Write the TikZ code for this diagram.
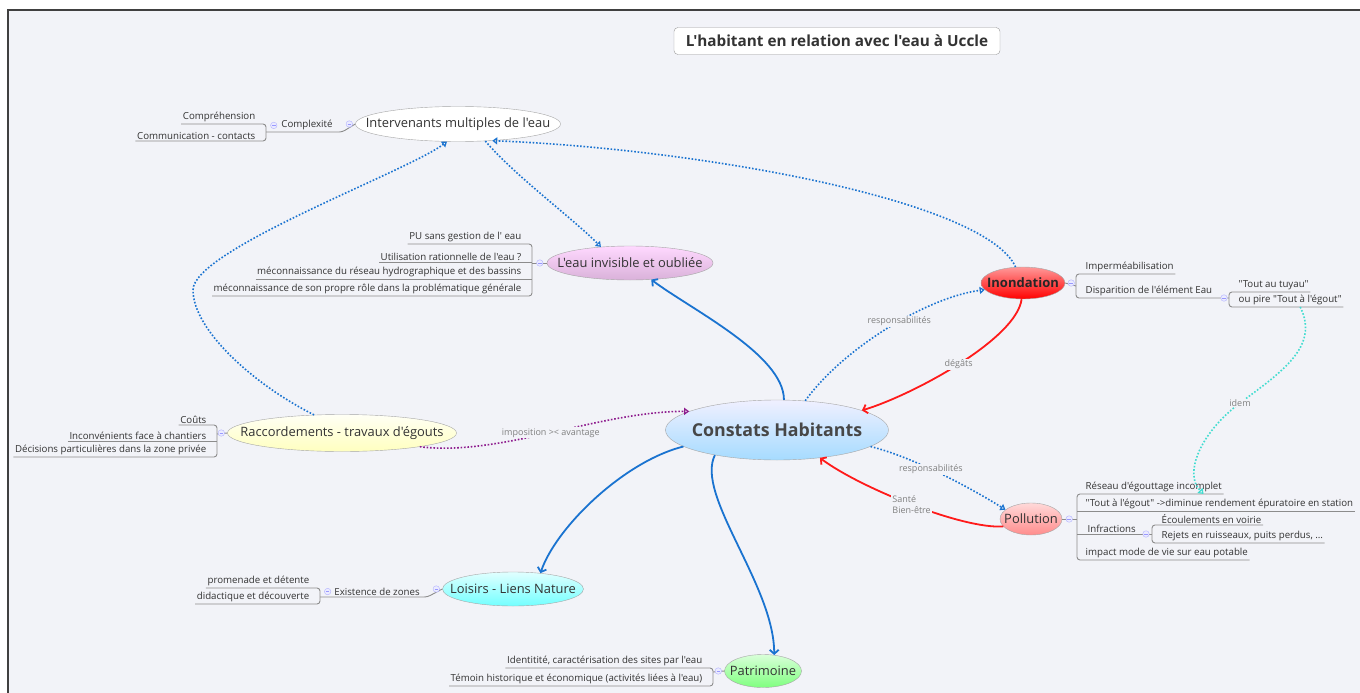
\documentclass[tikz,border=0pt]{standalone}
\usepackage{fontspec}
\setmainfont{Open Sans}[Ligatures=TeXOff]
\usetikzlibrary{shapes.geometric,arrows.meta,calc}

\definecolor{fond}{HTML}{F2F3F8}
\definecolor{lien}{HTML}{1A73D0}
\definecolor{rouge}{HTML}{FF1A1A}
\definecolor{violet}{HTML}{8E1C8E}
\definecolor{turquoise}{HTML}{40DCD0}
\definecolor{branche}{HTML}{8C8C8C}
\definecolor{texte}{HTML}{333333}

\begin{document}
\begin{tikzpicture}[x=1pt,y=-1pt,
  sujet/.style={ellipse,draw=gray!70,inner sep=0pt},
  titresujet/.style={font=\fontsize{12.9}{14}\selectfont,text=texte},
  feuille/.style={inner sep=1.5pt,text=texte,font=\fontsize{9.7}{11}\selectfont},
  branch/.style={draw=branche,line width=0.9pt,rounded corners=3pt},
  pli/.style={circle,draw=blue!30,fill=blue!8,minimum size=6.5pt,inner sep=0pt,
    path picture={\draw[blue!40,line width=0.6pt] ([xshift=-1.8pt]path picture bounding box.center) -- ([xshift=1.8pt]path picture bounding box.center);}},
  plein/.style={line width=1.8pt,-{Straight Barb[length=4pt,width=9pt]}},
  pointille/.style={line width=1.6pt,dash pattern=on 1.6pt off 1.8pt,-{Triangle[open,length=5pt,width=7pt,line width=1.2pt]}},
  etiq/.style={fill=fond,inner sep=1pt,text=gray,font=\fontsize{9}{10.5}\selectfont}
]
\useasboundingbox (0,0) rectangle (1360,693);
\fill[white] (0,0) rectangle (1360,693);
\fill[fond] (8,10) rectangle (1360,693);
\draw[black!75,line width=1.2pt] (8,693) -- (8,10) -- (1360,10);

% titre
\node[draw=gray!80,fill=white,rounded corners=4pt,minimum width=326,minimum height=27,
  font=\bfseries\fontsize{15.3}{17}\selectfont,text=texte] (titre) at (837,41) {L'habitant en relation avec l'eau à Uccle};

% sujets
\node[sujet,minimum width=223,minimum height=60,top color=blue!6!white,bottom color=blue!40!cyan!35!white,
  label={[font=\bfseries\fontsize{17.8}{19}\selectfont,text=black!72]center:Constats Habitants}] (centre) at (777,430) {};
\node[sujet,minimum width=205,minimum height=35,fill=white,
  label={[titresujet]center:Intervenants multiples de l'eau}] (ia) at (458,124) {};
\node[sujet,minimum width=166,minimum height=34,top color=magenta!15!white,bottom color=magenta!35!gray!45!white,
  label={[titresujet]center:L'eau invisible et oubliée}] (inv) at (630,263) {};
\node[sujet,minimum width=84,minimum height=32,top color=red!40!white,bottom color=red,
  label={[font=\bfseries\fontsize{13}{14}\selectfont,text=black!85]center:Inondation}] (inon) at (1023,283) {};
\node[sujet,minimum width=62,minimum height=32,top color=red!15!white,bottom color=red!45!white,
  label={[titresujet]center:Pollution}] (poll) at (1031,519) {};
\node[sujet,minimum width=229,minimum height=37,top color=yellow!4!white,bottom color=yellow!25!white,
  label={[titresujet]center:Raccordements - travaux d'égouts}] (racc) at (342,433) {};
\node[sujet,minimum width=141,minimum height=34,top color=cyan!12!white,bottom color=cyan!55!white,
  label={[titresujet]center:Loisirs - Liens Nature}] (lois) at (513,589) {};
\node[sujet,minimum width=77,minimum height=33,top color=green!15!white,bottom color=green!50!white,
  label={[titresujet]center:Patrimoine}] (pat) at (763,671) {};

% intervenants
\coordinate (brA) at (266,132);
\node[feuille,anchor=south east] (comp) at (257,124) {Compréhension};
\node[feuille,anchor=south east] (comm) at (257,141) {Communication - contacts};
\node[feuille,anchor=south] (cplx) at (307,132) {Complexité};
\draw[branch] (comp.south west) -- (comp.south west -| brA) -- (comm.south west -| brA) -- (comm.south west);
\draw[branch] (brA) -- ([xshift=8pt]cplx.south east) -- (ia.west);

% eau invisible
\coordinate (brB) at (532,263);
\node[feuille,anchor=south east] (pu) at (523,244) {PU sans gestion de l' eau};
\node[feuille,anchor=south east] (util) at (523,262) {Utilisation rationnelle de l'eau ?};
\node[feuille,anchor=south east] (mec1) at (523,279) {méconnaissance du réseau hydrographique et des bassins};
\node[feuille,anchor=south east] (mec2) at (523,296) {méconnaissance de son propre rôle dans la problématique générale};
\draw[branch] (pu.south west) -- (pu.south west -| brB) -- (mec2.south west -| brB) -- (mec2.south west);
\draw[branch] (util.south west) -- (util.south west -| brB);
\draw[branch] (mec1.south west) -- (mec1.south west -| brB);
\draw[branch] (brB) -- (inv.west);

% inondation
\coordinate (brC) at (1076,286);
\coordinate (brC2) at (1229,298);
\node[feuille,anchor=south west] (imp) at (1084,274) {Imperméabilisation};
\node[feuille,anchor=south west] (disp) at (1084,298) {Disparition de l'élément Eau};
\node[feuille,anchor=south west] (tuyau) at (1237,292) {"Tout au tuyau"};
\node[feuille,anchor=south west] (oupire) at (1237,307) {ou pire "Tout à l'égout"};
\draw[branch] (inon.east) -- (brC);
\draw[branch] (imp.south east) -- (imp.south east -| brC) -- (disp.south east -| brC) -- (brC2);
\draw[branch] (tuyau.south east) -- (tuyau.south east -| brC2) -- (oupire.south east -| brC2) -- (oupire.south east);

% pollution
\coordinate (brD) at (1077,519);
\coordinate (brD2) at (1152,534);
\node[feuille,anchor=south west] (res) at (1084,494) {Réseau d'égouttage incomplet};
\node[feuille,anchor=south west] (tout) at (1084,511) {"Tout à l'égout" ->diminue rendement épuratoire en station};
\node[feuille,anchor=south west] (infr) at (1086,534) {Infractions};
\node[feuille,anchor=south west] (ecoul) at (1160,525) {Écoulements en voirie};
\node[feuille,anchor=south west] (rejet) at (1160,543) {Rejets en ruisseaux, puits perdus, …};
\node[feuille,anchor=south west] (impact) at (1084,560) {impact mode de vie sur eau potable};
\draw[branch] (poll.east) -- (brD);
\draw[branch] (res.south east) -- (res.south east -| brD) -- (impact.south east -| brD) -- (impact.south east);
\draw[branch] (tout.south east) -- (tout.south east -| brD);
\draw[branch] (infr.south west -| brD) -- (brD2);
\draw[branch] (ecoul.south east) -- (ecoul.south east -| brD2) -- (rejet.south east -| brD2) -- (rejet.south east);

% raccordements
\coordinate (brE) at (217,434);
\node[feuille,anchor=south east] (couts) at (208,425) {Coûts};
\node[feuille,anchor=south east] (inconv) at (208,441) {Inconvénients face à chantiers};
\node[feuille,anchor=south east] (decis) at (208,457) {Décisions particulières dans la zone privée};
\draw[branch] (couts.south west) -- (couts.south west -| brE) -- (decis.south west -| brE) -- (decis.south west);
\draw[branch] (inconv.south west) -- (inconv.south west -| brE);
\draw[branch] (brE) -- (racc.west);

% loisirs
\coordinate (brF) at (320,597);
\node[feuille,anchor=south east] (prom) at (311,588) {promenade et détente};
\node[feuille,anchor=south east] (didac) at (311,604) {didactique et découverte};
\node[feuille,anchor=south] (exist) at (377,597) {Existence de zones};
\draw[branch] (prom.south west) -- (prom.south west -| brF) -- (didac.south west -| brF) -- (didac.south west);
\draw[branch] (brF) -- ([xshift=6pt]exist.south east) -- (lois.west);

% patrimoine
\coordinate (brG) at (713,672);
\node[feuille,anchor=south east] (ident) at (704,668) {Identitité, caractérisation des sites par l'eau};
\node[feuille,anchor=south east] (temoin) at (704,686) {Témoin historique et économique (activités liées à l'eau)};
\draw[branch] (ident.south west) -- (ident.south west -| brG) -- (temoin.south west -| brG) -- (temoin.south west);
\draw[branch] (brG) -- (pat.west);

% plis
\node[pli] at ([xshift=-6pt]ia.west) {};
\node[pli] at ([xshift=-6pt]cplx.west) {};
\node[pli] at ([xshift=-7pt]inv.west) {};
\node[pli] at ([xshift=6pt]inon.east) {};
\node[pli] at ([xshift=-5pt]brC2) {};
\node[pli] at ([xshift=7pt]poll.east) {};
\node[pli] at ([xshift=-6pt]brD2) {};
\node[pli] at ([xshift=-6pt]racc.west) {};
\node[pli] at ([xshift=-6pt]lois.west) {};
\node[pli] at ([xshift=-5pt]exist.west) {};
\node[pli] at ([xshift=-6pt]pat.west) {};

% liens
\draw[plein,lien] (centre.77) .. controls +(0,-45) and +(40,30) .. (inv.-38);
\draw[plein,lien] (centre.190) .. controls +(-60,15) and +(15,-45) .. (lois.30);
\draw[plein,lien] (centre.202) .. controls +(-20,40) and +(0,-70) .. (pat.55);
\draw[plein,rouge] (inon.265) .. controls +(-5,40) and +(50,-15) .. node[etiq,pos=0.5] {dégâts} (centre.13);
\draw[plein,rouge] (poll.195) .. controls +(-40,3) and +(40,30) .. node[etiq,pos=0.5,align=left] {Santé\\Bien-être} (centre.-33);
\draw[pointille,lien] (centre.46) .. controls +(40,-55) and +(-55,7) .. node[etiq,pos=0.55] {responsabilités} (inon.190);
\draw[pointille,lien] (centre.-10) .. controls +(40,10) and +(-40,-25) .. node[etiq,pos=0.45] {responsabilités} (poll.160);
\draw[pointille,lien] (inon.115) .. controls +(-30,-67) and +(205,8) .. (ia.-26);
\draw[pointille,lien] (ia.-32) .. controls +(30,35) and +(-30,-30) .. (inv.151);
\draw[pointille,lien] (racc.147) .. controls +(-60,-30) and +(0,40) .. (193,290) .. controls +(0,-40) and +(-40,30) .. (ia.-122);
\draw[pointille,violet] (racc.-10) .. controls +(80,10) and +(-90,0) .. node[etiq,pos=0.5] {imposition >< avantage} (centre.168);
\draw[pointille,turquoise] ([xshift=10pt]oupire.south) .. controls +(20,40) and +(40,-30) .. (1240,403) node[etiq] {idem}
  .. controls +(-40,30) and +(-20,-20) .. ($(res.south east)+(-20,0)$);
\end{tikzpicture}
\end{document}
